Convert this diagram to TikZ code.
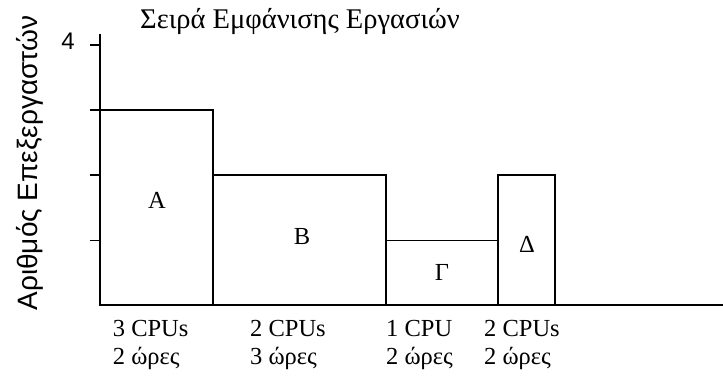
\documentclass[tikz,border=0pt]{standalone}
\usepackage{fontspec}
\setmainfont{Liberation Serif}
\newfontfamily\axisfont{Liberation Sans}
\begin{document}
\begin{tikzpicture}[x=1pt,y=-1pt,
  bar/.style={draw=black,line width=1.3pt},
  axis/.style={draw=black,line width=2.2pt},
  tick/.style={draw=black,line width=1.2pt},
  barlabel/.style={font=\fontsize{24.5}{28}\selectfont,inner sep=0pt},
  info/.style={font=\fontsize{24.5}{27}\selectfont,inner sep=0pt,anchor=base west}]
\useasboundingbox (0,0) rectangle (723,382);

% title
\node[font=\fontsize{28.5}{33}\selectfont,anchor=base west,inner sep=0pt] (title) at (140,28.3) {Σειρά Εμφάνισης Εργασιών};

% vertical axis label and top value
\node[font=\axisfont\fontsize{28}{32}\selectfont,rotate=90,anchor=base,inner sep=0pt] (ylabel) at (37,163) {Αριθμός Επεξεργαστών};
\node[font=\axisfont\fontsize{24}{28}\selectfont,anchor=base,inner sep=0pt] (four) at (68,50) {4};

% jobs as rectangles: height = CPUs, width = hours
\draw[bar] (100,110) rectangle (213,305);
\draw[bar] (213,175) rectangle (386,305);
\draw[bar] (386,240.5) rectangle (498,305);
\draw[bar] (498,175) rectangle (555,305);

\node[barlabel] (jobA) at (157,200) {A};
\node[barlabel] (jobB) at (302,237) {B};
\node[barlabel] (jobC) at (442,272) {Γ};
\node[barlabel] (jobD) at (527,244) {Δ};

% axes and ticks
\coordinate (origin) at (100,305);
\coordinate (ytop) at (100,34);
\coordinate (xend) at (723,305);
\draw[axis] (ytop) -- (origin) -- (xend);
\foreach \y in {45,110,175,240.5}
  \draw[tick] (90,\y) -- (100,\y);

% requirements of each job
\foreach \x/\cpu/\hrs/\n in {112.7/3 CPUs/2/A, 250/2 CPUs/3/B, 386/1 CPU/2/C, 484/2 CPUs/2/D}{
  \node[info] (cpu\n) at (\x,336.7) {\cpu};
  \node[info] (hrs\n) at (\x,364) {\hrs\ ώρες};
}
\end{tikzpicture}
\end{document}
